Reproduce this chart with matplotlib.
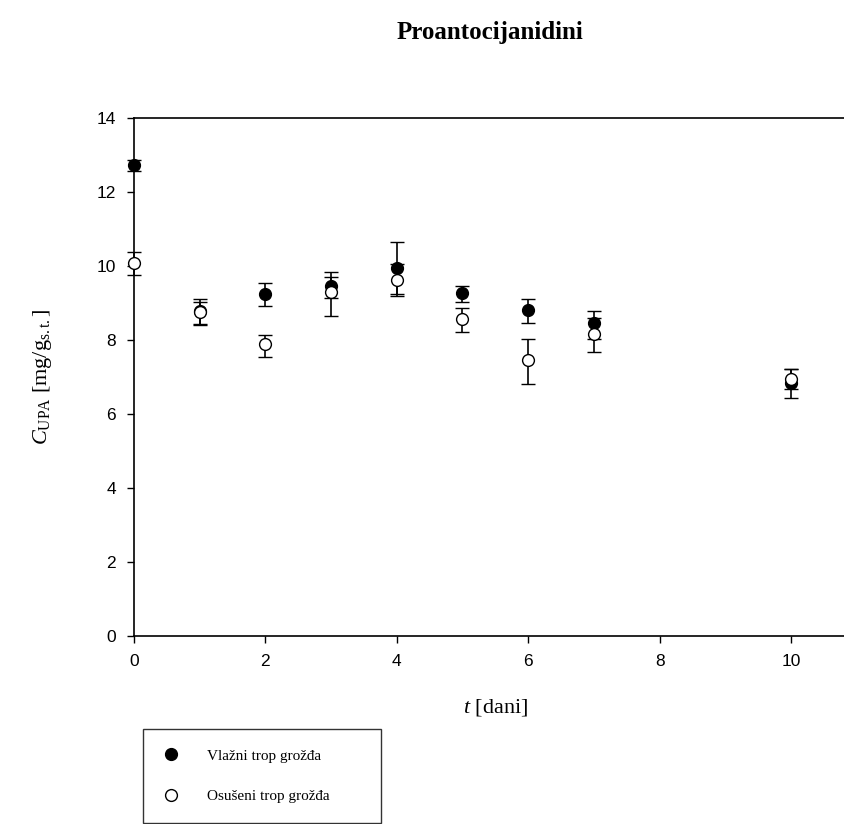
import numpy as np
import matplotlib.pyplot as plt

# time points [days]
t = [0, 1, 2, 3, 4, 5, 6, 7, 10]

# wet grape pomace (filled): mean, lower and upper end of error bar
wet = [12.74, 8.78, 9.25, 9.45, 9.95, 9.27, 8.80, 8.46, 6.83]
wet_lo = [12.56, 8.44, 8.91, 9.14, 9.25, 9.02, 8.45, 8.04, 6.42]
wet_hi = [12.87, 9.12, 9.54, 9.85, 10.64, 9.47, 9.10, 8.78, 7.21]

# dried grape pomace (open)
dry = [10.08, 8.75, 7.89, 9.29, 9.63, 8.58, 7.45, 8.16, 6.95]
dry_lo = [9.75, 8.41, 7.55, 8.64, 9.20, 8.22, 6.82, 7.68, 6.68]
dry_hi = [10.37, 9.03, 8.14, 9.69, 10.05, 8.86, 8.02, 8.59, 7.21]

labels = ['Vlažni trop grožđa', 'Osušeni trop grožđa']

serif = 'Liberation Serif'
sans = 'Liberation Sans'
plt.rcParams['mathtext.fontset'] = 'custom'
plt.rcParams['mathtext.rm'] = serif
plt.rcParams['mathtext.it'] = serif + ':italic'

fig = plt.figure(figsize=(8.45, 8.24), dpi=100)
ax = fig.add_axes([134 / 845, 188 / 824, 11 * 65.7 / 845, 518 / 824])


def yerr(m, lo, hi):
    m = np.array(m)
    return [m - np.array(lo), np.array(hi) - m]


kw = dict(fmt='o', color='black', mec='black', ms=8.5, mew=1.0,
          elinewidth=1.2, capsize=5, capthick=1.2, clip_on=False)
ax.errorbar(t, wet, yerr=yerr(wet, wet_lo, wet_hi), mfc='black',
            label=labels[0], zorder=3, **kw)
ax.errorbar(t, dry, yerr=yerr(dry, dry_lo, dry_hi), mfc='white',
            label=labels[1], zorder=4, **kw)

ax.set_xlim(0, 11)
ax.set_ylim(0, 14)
ax.set_xticks([0, 2, 4, 6, 8, 10])
ax.set_yticks(range(0, 15, 2))
ax.tick_params(direction='out', length=5, width=1.0, labelsize=12.5, pad=8)
for lab in ax.get_xticklabels() + ax.get_yticklabels():
    lab.set_fontfamily(sans)
for s in ax.spines.values():
    s.set_linewidth(1.2)
ax.spines['right'].set_visible(False)

ax.set_xlabel(r'$t$ [dani]', fontfamily=serif, fontsize=16, labelpad=20)
ax.set_ylabel(r'$C_{\mathrm{UPA}}$ [mg/g$_{\mathrm{s.t.}}$]', fontfamily=serif,
              fontsize=16, labelpad=31)

fig.text(490 / 845, 1 - 32 / 824, 'Proantocijanidini', ha='center', va='center',
         fontfamily=serif, fontsize=18, fontweight='bold')

handles, labs = ax.get_legend_handles_labels()
handles = [h[0] for h in handles]
leg = fig.legend(handles, labs, loc='upper left',
                 bbox_to_anchor=(143 / 845, 0, 238 / 845, 1 - 729 / 824),
                 mode='expand', prop={'family': serif, 'size': 11},
                 frameon=True, fancybox=False, edgecolor='black',
                 labelspacing=1.75, borderpad=1.3, handlelength=1.0,
                 handletextpad=1.9, borderaxespad=0)
leg.get_frame().set_linewidth(1.0)

fig.savefig('out.png', dpi=100)
